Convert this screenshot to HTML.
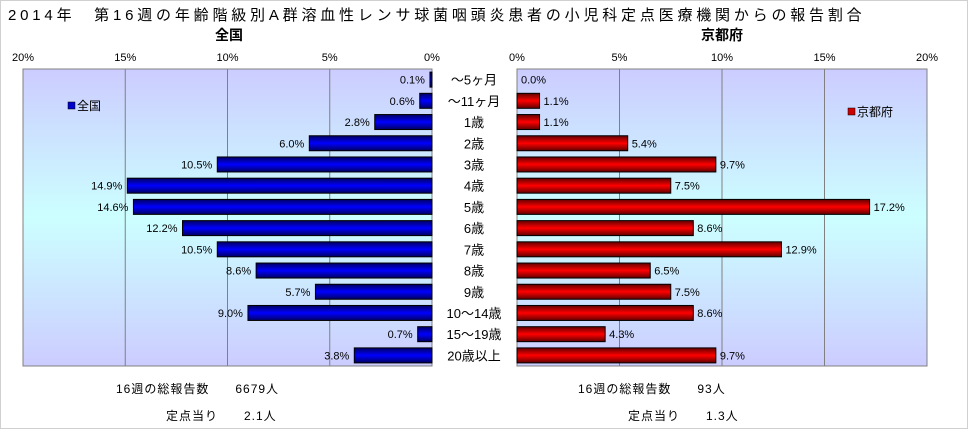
<!DOCTYPE html>
<html><head><meta charset="utf-8">
<style>
body{margin:0;background:#fff;font-family:"Liberation Sans","Noto Sans CJK JP",sans-serif;}
svg text{font-family:"Liberation Sans","Noto Sans CJK JP",sans-serif;}
</style></head>
<body>
<svg width="968" height="429" viewBox="0 0 968 429">
<defs>
<linearGradient id="bg" x1="0" y1="0" x2="0" y2="1">
<stop offset="0" stop-color="#ccccff"/><stop offset="0.5" stop-color="#ccffff"/><stop offset="1" stop-color="#ccccff"/>
</linearGradient>
<linearGradient id="gb" x1="0" y1="0" x2="0" y2="1">
<stop offset="0" stop-color="#000060"/><stop offset="0.5" stop-color="#0000ff"/><stop offset="1" stop-color="#000060"/>
</linearGradient>
<linearGradient id="gr" x1="0" y1="0" x2="0" y2="1">
<stop offset="0" stop-color="#600000"/><stop offset="0.5" stop-color="#ff0000"/><stop offset="1" stop-color="#600000"/>
</linearGradient>
</defs>
<rect x="0.5" y="0.5" width="967" height="428" fill="#fff" stroke="#d0d0d0"/>
<text x="8" y="20" font-size="15" letter-spacing="3.8">2014年　第16週の年齢階級別A群溶血性レンサ球菌咽頭炎患者の小児科定点医療機関からの報告割合</text>
<text x="229" y="40" font-size="14" font-weight="bold" text-anchor="middle">全国</text>
<text x="722" y="40" font-size="14" font-weight="bold" text-anchor="middle">京都府</text>
<rect x="23" y="69" width="409" height="297" fill="url(#bg)" stroke="#808080"/>
<rect x="517" y="69" width="410" height="297" fill="url(#bg)" stroke="#808080"/>
<g id="g"></g>
<rect x="68" y="102" width="7" height="7" fill="#0000cc" stroke="#000" stroke-width="0.5"/>
<text x="77" y="110" font-size="12">全国</text>
<rect x="848" y="108" width="7" height="7" fill="#cc0000" stroke="#000" stroke-width="0.5"/>
<text x="857" y="116" font-size="12">京都府</text>
<text x="116" y="393" font-size="12" letter-spacing="1">16週の総報告数　　6679人</text>
<text x="166" y="420" font-size="12" letter-spacing="1">定点当り　　2.1人</text>
<text x="578" y="393" font-size="12" letter-spacing="1">16週の総報告数　　93人</text>
<text x="628" y="420" font-size="12" letter-spacing="1">定点当り　　1.3人</text>
</svg>
<script>
const categories=["～5ヶ月","～11ヶ月","1歳","2歳","3歳","4歳","5歳","6歳","7歳","8歳","9歳","10～14歳","15～19歳","20歳以上"];
const nationalValues=[0.1,0.6,2.8,6.0,10.5,14.9,14.6,12.2,10.5,8.6,5.7,9.0,0.7,3.8];
const kyotoValues=[0.0,1.1,1.1,5.4,9.7,7.5,17.2,8.6,12.9,6.5,7.5,8.6,4.3,9.7];
const tickValues=[0,5,10,15,20];
(function(){
const NS="http://www.w3.org/2000/svg";
const g=document.getElementById('g');
const plotTop=69,plotBottom=366,rowH=(plotBottom-plotTop)/categories.length,barH=15;
const xL=v=>432-v*(409/20);
const xR=v=>517+v*(410/20);
const yC=i=>plotTop+rowH*(i+0.5);
function mk(t,a){const e=document.createElementNS(NS,t);for(const k in a)e.setAttribute(k,a[k]);g.appendChild(e);return e;}
tickValues.forEach(t=>{
  if(t>0&&t<20){
    const l1=mk('line',{x1:xL(t),x2:xL(t),y1:plotTop,y2:plotBottom,stroke:'#808080'});
    
    
    const l2=mk('line',{x1:xR(t),x2:xR(t),y1:plotTop,y2:plotBottom,stroke:'#808080'});
    
    
  }
  const a=mk('text',{x:xL(t),y:61,'font-size':11,'text-anchor':'middle'});a.textContent=t+'%';
  
  
  const b=mk('text',{x:xR(t),y:61,'font-size':11,'text-anchor':'middle'});b.textContent=t+'%';
  
  
});
categories.forEach((c,i)=>{
  const y=yC(i);
  const v=nationalValues[i];
  const r=mk('rect',{x:xL(v),y:y-barH/2,width:Math.max(xL(0)-xL(v),1),height:barH,fill:'url(#gb)',stroke:'#000','stroke-width':1});
  
  
  const t=mk('text',{x:xL(v)-5,y:y+4,'font-size':11,'text-anchor':'end'});t.textContent=v.toFixed(1)+'%';
  
  
  const k=kyotoValues[i];
  if(k>0){
    const r2=mk('rect',{x:xR(0),y:y-barH/2,width:xR(k)-xR(0),height:barH,fill:'url(#gr)',stroke:'#000','stroke-width':1});
    
    
  }
  const t2=mk('text',{x:xR(k)+4,y:y+4,'font-size':11});t2.textContent=k.toFixed(1)+'%';
  
  
  const cl=mk('text',{x:474,y:y+5,'font-size':13,'text-anchor':'middle'});cl.textContent=c;
  
  
});
})();
</script>
</body></html>
